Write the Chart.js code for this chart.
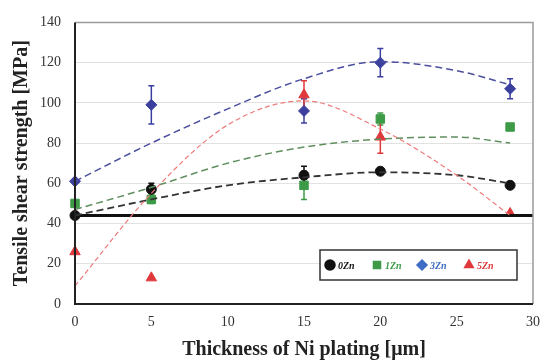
<!DOCTYPE html>
<html>
<head>
<meta charset="utf-8">
<script src="https://cdn.jsdelivr.net/npm/chart.js@4/dist/chart.umd.min.js"></script>
<style>
  html, body { margin: 0; padding: 0; background: #fff; }
  #wrap { width: 550px; height: 360px; }
</style>
</head>
<body>
<div id="wrap"><canvas id="chart" width="550" height="360"></canvas></div>
<script>
// measured points
const thickness = [0, 5, 15, 20, 28.5];
const zn0 = [44, 57, 64, 66, 59];
const zn1 = [50, 52, 59, 92, 88];
const zn3 = [61, 99, 96, 120, 107];
const zn5 = [26, 13, 104, 83, 45];

// error bar half-lengths
const zn0Err = [0, 3, 4.5, 0, 0];
const zn1Err = [0, 2, 7, 3, 0];
const zn3Err = [0, 9.5, 6, 7, 5];
const zn5Err = [0, 0, 7, 8, 0];

// dashed fit curves
const fitX = [0, 5, 10, 15, 20, 25, 28.5];
const fit0 = [44, 52, 59, 63, 65.5, 64, 60];
const fit1 = [47, 58, 70, 78, 82, 83, 80];
const fit3 = [61, 80, 97, 112, 120.5, 116, 109];
const fit5 = [9, 55, 89, 101, 87, 64, 44];

const baseLineX = [0, 30];
const baseLineY = [44, 44];

const seriesNames = ['0Zn', '1Zn', '3Zn', '5Zn'];
const yTicks = [0, 20, 40, 60, 80, 100, 120, 140];
const xTicks = [0, 5, 10, 15, 20, 25, 30];

const serif = "'Liberation Serif', 'DejaVu Serif', serif";

function pts(xs, ys) {
    return xs.map((x, i) => ({ x: x, y: ys[i] }));
}

function fitSet(ys, color, width, dash) {
    return {
        data: pts(fitX, ys),
        showLine: true,
        borderColor: color,
        borderWidth: width,
        borderDash: dash,
        pointRadius: 0,
        cubicInterpolationMode: 'monotone',
        fill: false
    };
}

function markSet(ys, errs, color, style, radius) {
    return {
        data: pts(thickness, ys),
        errs: errs,
        showLine: false,
        backgroundColor: color,
        borderColor: color,
        pointStyle: style,
        pointRadius: radius,
        borderWidth: 1
    };
}

const colors = ['#111111', '#3d9b47', '#3b3f9e', '#e0393b'];
const legendColors = ['#111111', '#3d9b47', '#3f6cc4', '#e0393b'];
const styles = ['circle', 'rect', 'rectRot', 'triangle'];
const radii = [5, 6, 5.5, 6];

// error bars go under the markers
const errorBars = {
    id: 'errorBars',
    beforeDatasetsDraw(chart) {
        const ctx = chart.ctx;
        const xs = chart.scales.x, ys = chart.scales.y;
        ctx.save();
        chart.data.datasets.forEach(ds => {
            if (!ds.errs) return;
            ctx.strokeStyle = ds.borderColor;
            ctx.lineWidth = 1.5;
            ds.data.forEach((p, i) => {
                const e = ds.errs[i];
                if (!e) return;
                const px = xs.getPixelForValue(p.x);
                const top = ys.getPixelForValue(p.y + e);
                const bot = ys.getPixelForValue(p.y - e);
                ctx.beginPath();
                ctx.moveTo(px, top); ctx.lineTo(px, bot);
                ctx.moveTo(px - 3, top); ctx.lineTo(px + 3, top);
                ctx.moveTo(px - 3, bot); ctx.lineTo(px + 3, bot);
                ctx.stroke();
            });
        });
        ctx.restore();
    }
};

const frame = {
    id: 'frame',
    afterDraw(chart) {
        const a = chart.chartArea;
        const ctx = chart.ctx;
        ctx.save();
        ctx.strokeStyle = '#9a9a9a';
        ctx.lineWidth = 1.5;
        ctx.beginPath();
        ctx.moveTo(a.left, a.top); ctx.lineTo(a.right, a.top); ctx.lineTo(a.right, a.bottom);
        ctx.stroke();
        ctx.strokeStyle = '#222';
        ctx.lineWidth = 2;
        ctx.beginPath();
        ctx.moveTo(a.left, a.top); ctx.lineTo(a.left, a.bottom); ctx.lineTo(a.right, a.bottom);
        ctx.stroke();

        // legend box
        const lx = 320, ly = 250, lw = 197, lh = 30;
        ctx.fillStyle = '#fff';
        ctx.fillRect(lx, ly, lw, lh);
        ctx.strokeStyle = '#333';
        ctx.lineWidth = 1.5;
        ctx.strokeRect(lx, ly, lw, lh);
        const itemX = [330, 377, 422, 469];
        ctx.font = "bold italic 10px " + serif;
        ctx.textBaseline = 'middle';
        seriesNames.forEach((name, i) => {
            ctx.fillStyle = legendColors[i];
            ctx.strokeStyle = legendColors[i];
            Chart.helpers.drawPoint(ctx, {
                pointStyle: styles[i], radius: 5, borderWidth: 1
            }, itemX[i], ly + lh / 2);
            ctx.fillText(name, itemX[i] + 8, ly + lh / 2 + 1);
        });
        ctx.restore();
    }
};

const datasets = [
    fitSet(fit3, '#4b4f9e', 1.5, [7, 4]),
    fitSet(fit5, '#ee7a7a', 1.2, [5, 3]),
    fitSet(fit1, '#5f8f5f', 1.5, [7, 4]),
    fitSet(fit0, '#333333', 1.8, [7, 4]),
    {
        data: pts(baseLineX, baseLineY),
        showLine: true,
        borderColor: '#111',
        borderWidth: 3,
        pointRadius: 0
    },
    markSet(zn0, zn0Err, colors[0], styles[0], radii[0]),
    markSet(zn1, zn1Err, colors[1], styles[1], radii[1]),
    markSet(zn3, zn3Err, colors[2], styles[2], radii[2]),
    markSet(zn5, zn5Err, colors[3], styles[3], radii[3])
];

new Chart(document.getElementById('chart').getContext('2d'), {
    type: 'scatter',
    data: { datasets: datasets },
    plugins: [errorBars, frame],
    options: {
        responsive: false,
        animation: false,
        clip: false,
        layout: { padding: { left: 0, right: 10, top: 20, bottom: 0 } },
        plugins: {
            legend: { display: false },
            tooltip: { enabled: false }
        },
        scales: {
            x: {
                type: 'linear',
                min: 0, max: 30,
                afterBuildTicks: s => { s.ticks = xTicks.map(v => ({ value: v })); },
                afterFit: s => { s.height = 56; },
                grid: { display: false, drawTicks: false },
                border: { display: false },
                ticks: { padding: 10, color: '#333', font: { family: serif, size: 14 } },
                title: {
                    display: true,
                    text: 'Thickness of Ni plating [μm]',
                    color: '#222',
                    font: { family: serif, size: 20, weight: 'bold' },
                    padding: { top: 4, bottom: -2 }
                }
            },
            y: {
                min: 0, max: 140,
                afterBuildTicks: s => { s.ticks = yTicks.map(v => ({ value: v })); },
                afterFit: s => { s.width = 75; },
                grid: { color: '#e2e2e2', lineWidth: 1, drawTicks: false },
                border: { display: false },
                ticks: { padding: 14, color: '#333', font: { family: serif, size: 14 } },
                title: {
                    display: true,
                    text: 'Tensile shear strength [MPa]',
                    color: '#222',
                    font: { family: serif, size: 20, weight: 'bold' },
                    padding: { top: 10, bottom: 4 }
                }
            }
        }
    }
});
</script>
</body>
</html>
